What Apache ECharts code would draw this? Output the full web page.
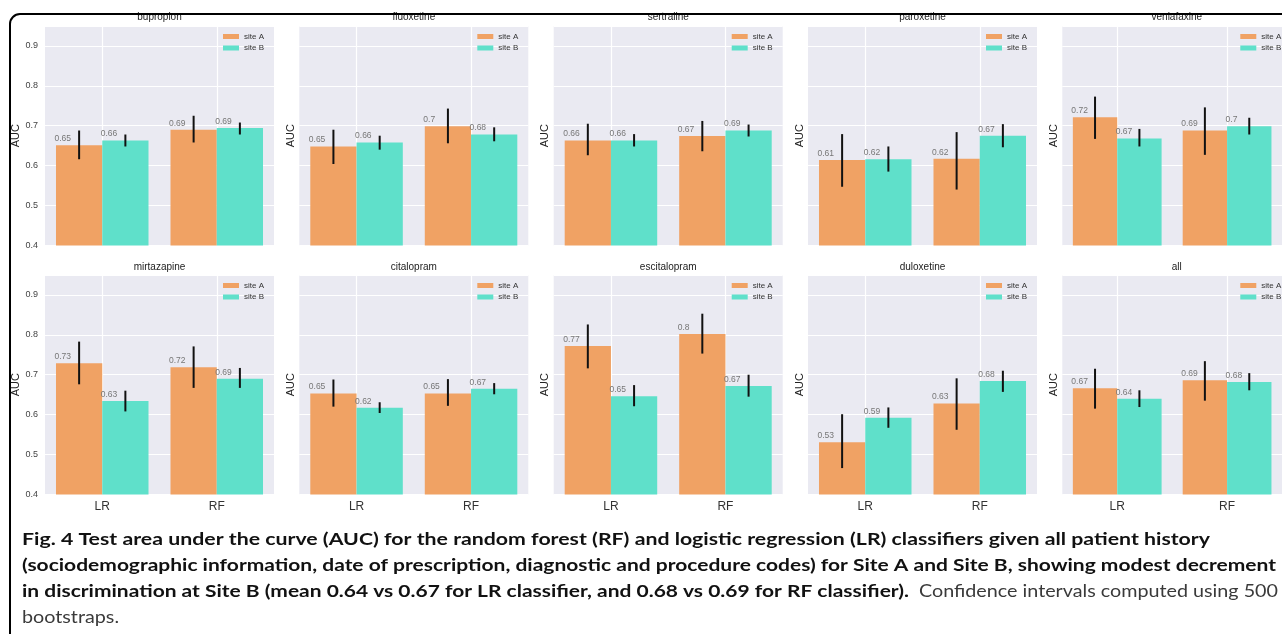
<!DOCTYPE html>
<html><head><meta charset="utf-8">
<script src="https://cdn.jsdelivr.net/npm/echarts@6/dist/echarts.min.js"></script>
<style>html,body{margin:0;padding:0;background:#fff}#c{width:1282px;height:634px}</style>
</head><body><div id="c"></div><script>
// ---- data ----
const panels = ['bupropion','fluoxetine','sertraline','paroxetine','venlafaxine','mirtazapine','citalopram','escitalopram','duloxetine','all'];
const categories = ['LR','RF'];
const seriesNames = ['site A','site B'];
const yTicks = [0.4,0.5,0.6,0.7,0.8,0.9];
const siteA_auc  = [[0.651,0.690],[0.648,0.699],[0.663,0.674],[0.614,0.617],[0.721,0.688],[0.729,0.719],[0.653,0.653],[0.772,0.802],[0.531,0.628],[0.666,0.686]];
const siteA_low  = [[0.616,0.658],[0.604,0.656],[0.626,0.636],[0.547,0.540],[0.667,0.627],[0.676,0.667],[0.620,0.622],[0.716,0.753],[0.466,0.562],[0.615,0.635]];
const siteA_high = [[0.688,0.725],[0.690,0.743],[0.705,0.712],[0.679,0.684],[0.773,0.746],[0.783,0.771],[0.688,0.689],[0.826,0.853],[0.601,0.691],[0.715,0.734]];
const siteB_auc  = [[0.663,0.694],[0.658,0.678],[0.663,0.688],[0.616,0.675],[0.668,0.699],[0.634,0.690],[0.617,0.665],[0.646,0.672],[0.592,0.684],[0.640,0.682]];
const siteB_low  = [[0.648,0.678],[0.640,0.661],[0.648,0.673],[0.585,0.646],[0.648,0.678],[0.608,0.667],[0.604,0.651],[0.621,0.645],[0.567,0.657],[0.619,0.661]];
const siteB_high = [[0.678,0.708],[0.675,0.696],[0.679,0.703],[0.648,0.704],[0.692,0.720],[0.660,0.717],[0.631,0.679],[0.674,0.700],[0.618,0.710],[0.661,0.704]];
const siteA_labels = [['0.65','0.69'],['0.65','0.7'],['0.66','0.67'],['0.61','0.62'],['0.72','0.69'],['0.73','0.72'],['0.65','0.65'],['0.77','0.8'],['0.53','0.63'],['0.67','0.69']];
const siteB_labels = [['0.66','0.69'],['0.66','0.68'],['0.66','0.69'],['0.62','0.67'],['0.67','0.7'],['0.63','0.69'],['0.62','0.67'],['0.65','0.67'],['0.59','0.68'],['0.64','0.68']];
const captionBold = [
  'Fig. 4 Test area under the curve (AUC) for the random forest (RF) and logistic regression (LR) classifiers given all patient history',
  '(sociodemographic information, date of prescription, diagnostic and procedure codes) for Site A and Site B, showing modest decrement',
  'in discrimination at Site B (mean 0.64 vs 0.67 for LR classifier, and 0.68 vs 0.69 for RF classifier).'
];
const captionNormal = ['Confidence intervals computed using 500', 'bootstraps.'];

// ---- layout / style ----
const FONT = 'Liberation Sans, Arial, sans-serif';
const colA = '#F0A264', colB = '#5FE0CA';
const colLeft = [45, 299.3, 553.7, 808, 1062.3];
const rowTop = [26, 275];
const PW = 229, PH = 219.4;
const BW = 0.404;

const chart = echarts.init(document.getElementById('c'), null, {renderer:'canvas'});
const grids=[], xAxes=[], yAxes=[], series=[], legends=[], graphics=[];

function errRender(sign){
  return function(params, api){
    const j = api.value(0);
    const p1 = api.coord([j, api.value(1)]);
    const p2 = api.coord([j, api.value(2)]);
    const band = api.size([1,0])[0];
    const dx = sign*band*BW/2;
    return {type:'line', shape:{x1:p1[0]+dx, y1:p1[1], x2:p2[0]+dx, y2:p2[1]},
            style:{stroke:'#111', lineWidth:2}};
  };
}

panels.forEach((name,i)=>{
  const row = Math.floor(i/5), col = i%5;
  const L = colLeft[col], T = rowTop[row];
  grids.push({left:L, top:T, width:PW, height:PH, show:true, backgroundColor:'#EAEAF2', borderWidth:0, containLabel:false});
  xAxes.push({type:'category', gridIndex:i, data:categories,
    axisLine:{show:false}, axisTick:{show:false}, splitLine:{show:false},
    axisLabel:{show:row===1, fontSize:12, color:'#333', margin:6, fontFamily:FONT}});
  yAxes.push({type:'value', gridIndex:i, min:0.4, max:0.95, interval:0.1,
    axisLine:{show:false}, axisTick:{show:false},
    splitLine:{show:true, lineStyle:{color:'#fff', width:1.2}},
    axisLabel:{show:col===0, fontSize:9, color:'#444', margin:7, fontFamily:FONT,
      formatter:v=> (v>0.91 ? '' : v.toFixed(1))},
    name:'AUC', nameLocation:'middle', nameGap: col===0 ? 20 : 3,
    nameTextStyle:{fontSize:11, color:'#222', fontFamily:FONT}});
  series.push({type:'line', xAxisIndex:i, yAxisIndex:i, data:[], silent:true, z:1,
    markLine:{silent:true, z:1, symbol:'none', animation:false, label:{show:false},
      lineStyle:{color:'#fff', width:1.2, type:'solid'},
      data: categories.map(c=>({xAxis:c}))}});
  const mk = (nm, vals, labs, color) => ({type:'bar', name:nm, xAxisIndex:i, yAxisIndex:i,
    data: vals, barWidth: (BW*100)+'%', barGap:'0%', z:2,
    itemStyle:{color:color},
    label:{show:true, position:[-1.5,-6.5], align:'left', verticalAlign:'middle',
      fontSize:8.5, color:'#777', fontFamily:FONT,
      formatter:p=>labs[p.dataIndex]}});
  series.push(mk(seriesNames[0], siteA_auc[i], siteA_labels[i], colA));
  series.push(mk(seriesNames[1], siteB_auc[i], siteB_labels[i], colB));
  series.push({type:'custom', xAxisIndex:i, yAxisIndex:i, z:3, silent:true,
    renderItem:errRender(-1), encode:{x:0, y:[1,2]},
    data: categories.map((c,j)=>[j, siteA_low[i][j], siteA_high[i][j]])});
  series.push({type:'custom', xAxisIndex:i, yAxisIndex:i, z:3, silent:true,
    renderItem:errRender(1), encode:{x:0, y:[1,2]},
    data: categories.map((c,j)=>[j, siteB_low[i][j], siteB_high[i][j]])});
  legends.push({left:L+PW-56, top:T+0.5, orient:'vertical', itemWidth:16, itemHeight:5,
    itemGap:1.5, icon:'rect', selectedMode:false, data:seriesNames,
    textStyle:{fontSize:8, color:'#333', lineHeight:10, fontFamily:FONT}});
  graphics.push({type:'text', x:L+PW/2, y: row===0 ? 17.5 : 267.5, z:10,
    style:{text:name, align:'center', verticalAlign:'middle', font:'10px '+FONT, fill:'#222'}});
});

// caption, each run fitted to its span in the reference
const ctx = document.createElement('canvas').getContext('2d');
function fit(text, font, x0, x1){ ctx.font = font; return (x1-x0)/ctx.measureText(text).width; }
const CB = 'bold 17px Lato, "Open Sans", sans-serif';
const CN = '17px Lato, "Open Sans", sans-serif';
const capY = [540, 566, 592, 618];
const capX1 = [1210, 1276, 909];
captionBold.forEach((t,k)=>{
  graphics.push({type:'text', x:22, y:capY[k], scaleX:fit(t,CB,22,capX1[k]), z:10,
    style:{text:t, align:'left', verticalAlign:'middle', font:CB, fill:'#111'}});
});
const sN = fit(captionNormal[0],CN,919,1278);
graphics.push({type:'text', x:919, y:capY[2], scaleX:sN, z:10,
  style:{text:captionNormal[0], align:'left', verticalAlign:'middle', font:CN, fill:'#3a3a3a'}});
graphics.push({type:'text', x:22, y:capY[3], scaleX:sN, z:10,
  style:{text:captionNormal[1], align:'left', verticalAlign:'middle', font:CN, fill:'#3a3a3a'}});
// frame
graphics.push({type:'rect', z:100, shape:{x:10, y:14, width:1600, height:1000, r:10},
  style:{fill:'none', stroke:'#000', lineWidth:2}});

chart.setOption({animation:false, backgroundColor:'#fff', grid:grids, xAxis:xAxes, yAxis:yAxes,
  legend:legends, series:series, graphic:{elements:graphics}});
</script></body></html>
